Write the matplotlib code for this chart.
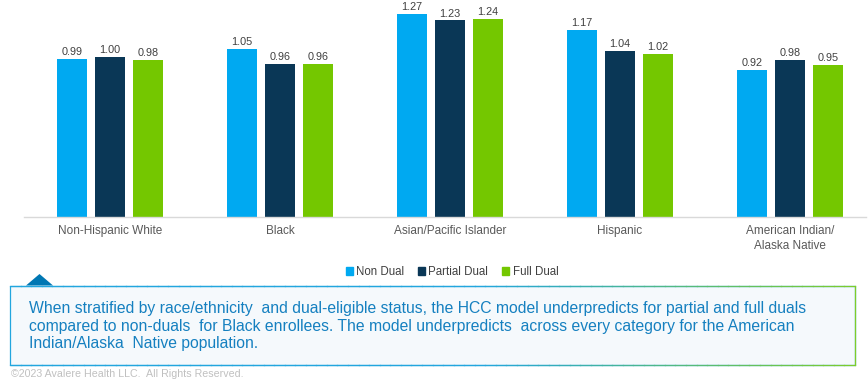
import matplotlib
matplotlib.use("Agg")
import matplotlib.pyplot as plt
import numpy as np
from matplotlib.patches import Rectangle, Polygon
from matplotlib.collections import LineCollection
from matplotlib.colors import to_rgb

plt.rcParams['font.family'] = ['Liberation Sans', 'DejaVu Sans']

categories = ['Non-Hispanic White', 'Black', 'Asian/Pacific Islander', 'Hispanic',
              'American Indian/\nAlaska Native']
series_names = ['Non Dual', 'Partial Dual', 'Full Dual']
non_dual = [0.99, 1.05, 1.27, 1.17, 0.92]
partial_dual = [1.00, 0.96, 1.23, 1.04, 0.98]
full_dual = [0.98, 0.96, 1.24, 1.02, 0.95]
colors = ['#00A9F1', '#0A3756', '#74C700']

note = ("When stratified by race/ethnicity  and dual-eligible status, the HCC model underpredicts for partial and full duals\n"
        "compared to non-duals  for Black enrollees. The model underpredicts  across every category for the American\n"
        "Indian/Alaska  Native population.")
footer = "\u00a92023 Avalere Health LLC.  All Rights Reserved."

W, H = 868, 386
fig = plt.figure(figsize=(W / 100, H / 100), dpi=100)


def fx(x):
    return x / W


def fy(y):
    return 1 - y / H


ax = fig.add_axes([fx(24), fy(217), fx(866) - fx(24), fy(0) - fy(217)])
x = np.arange(len(categories))
bw = 0.176
off = 0.2235
for i, (vals, name) in enumerate(zip([non_dual, partial_dual, full_dual], series_names)):
    bars = ax.bar(x + (i - 1) * off, vals, bw, color=colors[i], label=name)
    for b, v in zip(bars, vals):
        ax.text(b.get_x() + b.get_width() / 2, v + 0.012, f"{v:.2f}", ha='center', va='bottom',
                fontsize=7.8, color='#404040')

ax.set_xlim(-0.506, 4.447)
ax.set_ylim(0, 1.358)
ax.set_yticks([])
ax.set_xticks(x)
ax.set_xticklabels(categories, fontsize=8.5, color='#595959', linespacing=1.25)
ax.tick_params(axis='x', length=0, pad=6)
for s in ['top', 'right', 'left']:
    ax.spines[s].set_visible(False)
ax.spines['bottom'].set_color('#D9D9D9')
ax.spines['bottom'].set_linewidth(1)

handles = [Rectangle((0, 0), 1, 1, color=c) for c in colors]
fig.legend(handles, series_names, loc='center', bbox_to_anchor=(fx(452), fy(272)), ncol=3,
           frameon=False, fontsize=8.3, handlelength=0.6, handleheight=0.6,
           handletextpad=0.3, columnspacing=1.2, labelcolor='#404040')

# callout box
x0, x1, y0, y1 = 10, 855, 286, 365
c_a = np.array(to_rgb('#22A6DE'))
c_b = np.array(to_rgb('#80CC28'))
fig.patches.append(Rectangle((fx(x0), fy(y1)), fx(x1) - fx(x0), fy(y0) - fy(y1),
                             transform=fig.transFigure, facecolor='#F5F9FC',
                             edgecolor=c_a, linewidth=0.9))
n = 80
xs = np.linspace(x0, x1, n + 1)
segs, cols = [], []
for yy in (y0, y1):
    for k in range(n):
        segs.append([(fx(xs[k]), fy(yy)), (fx(xs[k + 1]), fy(yy))])
        t = min(1, max(0, (k / n - 0.55) / 0.45))
        cols.append(c_a * (1 - t) + c_b * t)
segs.append([(fx(x1), fy(y0)), (fx(x1), fy(y1))])
cols.append(c_b)
lc = LineCollection(segs, colors=cols, linewidths=0.9, capstyle='projecting',
                    transform=fig.transFigure)
fig.add_artist(lc)
fig.patches.append(Polygon([(fx(26), fy(285.5)), (fx(39.5), fy(274)), (fx(53), fy(285.5))],
                           closed=True, transform=fig.transFigure, facecolor='#0077B3',
                           edgecolor='none'))

fig.text(fx(29), fy(326), note, fontsize=11.3, color='#1580C0', va='center', ha='left',
         linespacing=1.24)
fig.text(fx(11), fy(374), footer, fontsize=7.7, color='#C0C0C0', va='center', ha='left')

fig.savefig('out.png', dpi=100)
